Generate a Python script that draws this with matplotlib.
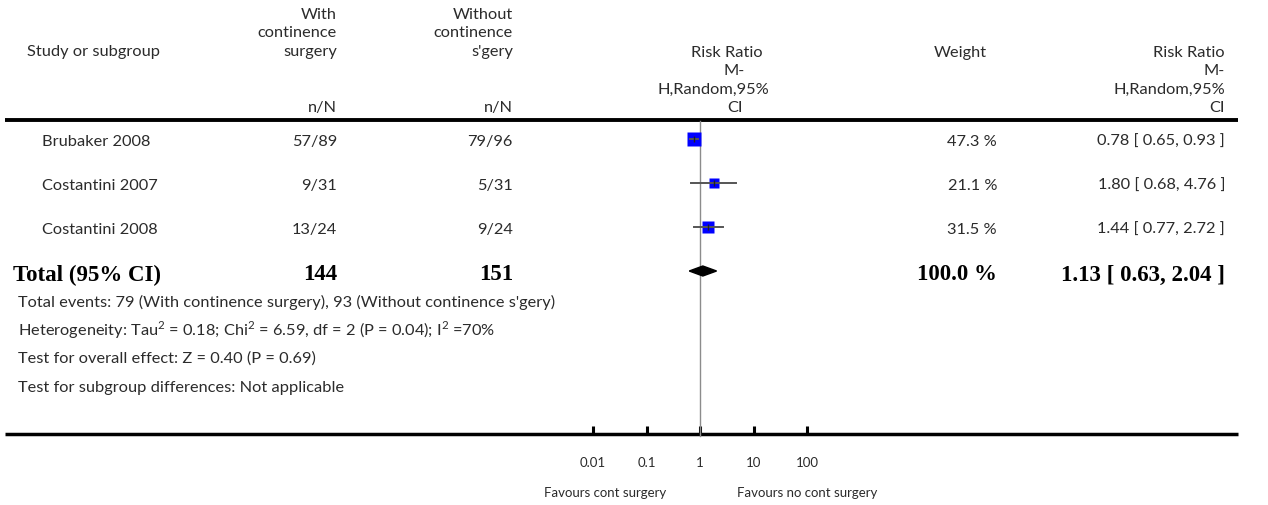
import numpy as np
import matplotlib
matplotlib.use("Agg")
import matplotlib.pyplot as plt
from matplotlib.patches import Polygon

# ---- data -------------------------------------------------------------
studies = ["Brubaker 2008", "Costantini 2007", "Costantini 2008"]
with_events = ["57/89", "9/31", "13/24"]
without_events = ["79/96", "5/31", "9/24"]
rr = [0.78, 1.80, 1.44]
rr_lo = [0.65, 0.68, 0.77]
rr_hi = [0.93, 4.76, 2.72]
weights = [47.3, 21.1, 31.5]

total_with = 144
total_without = 151
total_rr, total_lo, total_hi = 1.13, 0.63, 2.04
total_weight = 100.0

footnotes = [
    "Total events: 79 (With continence surgery), 93 (Without continence s'gery)",
    "Heterogeneity: Tau$^{2}$ = 0.18; Chi$^{2}$ = 6.59, df = 2 (P = 0.04); I$^{2}$ =70%",
    "Test for overall effect: Z = 0.40 (P = 0.69)",
    "Test for subgroup differences: Not applicable",
]
axis_ticks = [0.01, 0.1, 1, 10, 100]
axis_ticklabels = ["0.01", "0.1", "1", "10", "100"]
favours_left = "Favours cont surgery"
favours_right = "Favours no cont surgery"

# ---- layout (pixel units) --------------------------------------------
W, H = 1268, 506
plt.rcParams["font.family"] = ["Lato", "DejaVu Sans"]
plt.rcParams["mathtext.fontset"] = "custom"
plt.rcParams["mathtext.rm"] = "Lato"
TXT = "#2b2b2b"
FS = 11.8
BOLD = dict(family=["Liberation Serif"], fontweight="bold", fontsize=16.5, color="black")

fig = plt.figure(figsize=(W / 100, H / 100), dpi=100)
ov = fig.add_axes([0, 0, 1, 1])
ov.set_xlim(0, W)
ov.set_ylim(H, 0)
ov.axis("off")

x_head, x_name, x_total, x_foot = 27, 42, 13, 18
x_c2, x_c3 = 337, 513
x_whead, x_w = 934, 997
x_rr = 1225
y_line_top, y_line_bot = 121, 435
row_y = [140, 184, 228]
y_total = 272
foot_y = [302, 330, 359, 388]
head_y = [15, 33, 52, 108]
rr_head_y = [53, 71, 90, 108]

def t(x, y, s, ha="left", **kw):
    kw.setdefault("fontsize", FS)
    kw.setdefault("color", TXT)
    ov.text(x, y, s, ha=ha, va="center", **kw)

# header
t(x_head, head_y[2], "Study or subgroup")
for y, s in zip(head_y, ["With", "continence", "surgery", "n/N"]):
    t(x_c2, y, s, ha="right")
for y, s in zip(head_y, ["Without", "continence", "s'gery", "n/N"]):
    t(x_c3, y, s, ha="right")
for y, s, xc in zip(rr_head_y, ["Risk Ratio", "M-", "H,Random,95%", "CI"],
                    [727, 734, 713, 735]):
    t(xc, y, s, ha="center")
t(x_whead, rr_head_y[0], "Weight")
for y, s in zip(rr_head_y, ["Risk Ratio", "M-", "H,Random,95%", "CI"]):
    t(x_rr, y, s, ha="right")

# rules
ov.plot([5, 1238], [y_line_top, y_line_top], color="black", lw=2.8, solid_capstyle="butt")
ov.plot([5, 1238], [y_line_bot, y_line_bot], color="black", lw=2.5, solid_capstyle="butt")

# study rows
for y, name, a, b, w, r, lo, hi in zip(row_y, studies, with_events, without_events,
                                       weights, rr, rr_lo, rr_hi):
    yt = y + 2
    t(x_name, yt, name)
    t(x_c2, yt, a, ha="right")
    t(x_c3, yt, b, ha="right")
    t(x_w, yt, f"{w:.1f} %", ha="right")
    t(x_rr, yt, f"{r:.2f} [ {lo:.2f}, {hi:.2f} ]", ha="right")

# total row
yt = y_total + 3
t(x_total, yt, "Total (95% CI)", **BOLD)
t(x_c2, yt, str(total_with), ha="right", **BOLD)
t(x_c3, yt, str(total_without), ha="right", **BOLD)
t(x_w, yt, f"{total_weight:.1f} %", ha="right", **BOLD)
t(x_rr, yt, f"{total_rr:.2f} [ {total_lo:.2f}, {total_hi:.2f} ]", ha="right", **BOLD)

for y, s in zip(foot_y, footnotes):
    t(x_foot, y, s)

# ---- forest panel -----------------------------------------------------
x0, x1 = 593, 807
fa = fig.add_axes([x0 / W, (H - y_line_bot) / H, (x1 - x0) / W, (y_line_bot - y_line_top) / H])
fa.set_xscale("log")
fa.set_xlim(axis_ticks[0], axis_ticks[-1])
fa.set_ylim(y_line_bot, y_line_top)
fa.patch.set_alpha(0)
for sp in fa.spines.values():
    sp.set_visible(False)
fa.set_yticks([])
fa.set_xticks(axis_ticks)
fa.set_xticklabels(axis_ticklabels)
fa.xaxis.set_minor_locator(matplotlib.ticker.NullLocator())
fa.tick_params(axis="x", direction="in", length=6, width=2.2, color="black",
               labelsize=9.5, labelcolor=TXT, pad=16)

fa.plot([1, 1], [y_line_top + 1, y_line_bot + 2], color="#8c8c8c", lw=1, clip_on=False)

for y, w, r, lo, hi in zip(row_y, weights, rr, rr_lo, rr_hi):
    side_px = 2.05 * np.sqrt(w)
    fa.plot([r], [y], marker="s", ms=side_px * 0.72, color="#0000ff", mec="none",
            clip_on=False, zorder=3)
    fa.plot([lo, hi], [y, y], color="#555555", lw=1.4, clip_on=False, zorder=4)
    fa.plot([r], [y], marker="|", ms=4, mew=1, color="#222222", clip_on=False, zorder=5)

dia = Polygon([[total_lo, y_total], [total_rr, y_total - 5],
               [total_hi, y_total], [total_rr, y_total + 5]],
              closed=True, color="black", clip_on=False, zorder=4)
fa.add_patch(dia)

t(605, 493, favours_left, ha="center", fontsize=9.5)
t(807, 493, favours_right, ha="center", fontsize=9.5)

fig.savefig("out.png", dpi=100)
